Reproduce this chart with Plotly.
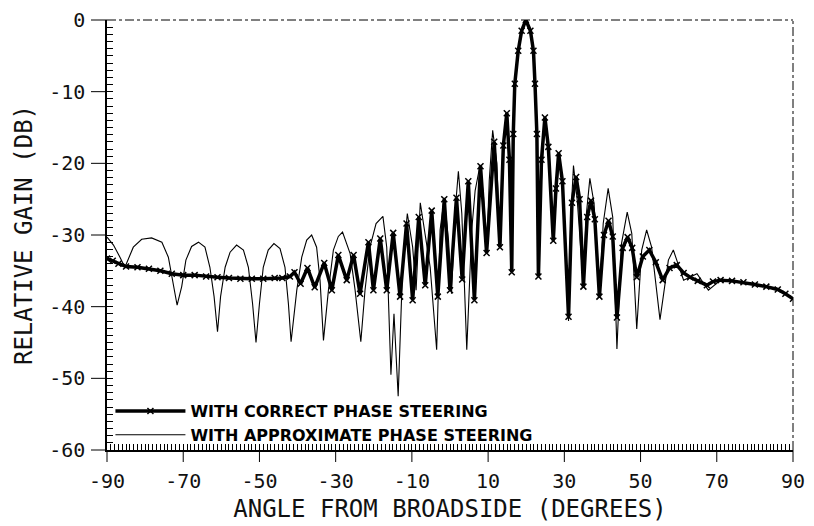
import plotly.graph_objects as go

# ---- data ----
correct_angle = [-90, -88.5, -87, -85, -82, -79, -76, -73, -70, -67, -64, -61, -58, -55, -52, -49, -46, -44, -42,
                 -40.8, -39.2, -37.4, -35.5, -33.0, -31.0, -29.3, -27.1, -25.3, -23.6, -21.4, -20.1, -18.3, -16.6,
                 -14.9, -13.1, -11.4, -9.8, -8.2, -6.5, -4.8, -3.2, -1.5, 0.0, 1.7, 3.2, 4.8, 6.4, 8.0, 9.6, 11.6,
                 13.1, 14.0, 14.9, 15.6, 16.2, 16.6, 17.0, 17.9, 18.8, 19.9, 21.1, 21.9, 22.3, 22.8, 23.2, 24.0,
                 24.9, 25.8, 27.1, 27.8, 28.5, 29.5, 31.1, 32.0, 33.1, 34.0, 35.0, 36.0, 37.0, 38.0, 39.2, 40.4,
                 41.6, 42.7, 43.8, 45.3, 46.6, 47.8, 49.0, 50.6, 52.3, 54.0, 55.8, 57.6, 59.5, 61.3, 63.0, 65.0,
                 67.4, 69.0, 71.0, 74.0, 77.0, 80.0, 83.0, 86.0, 88.0, 90.0]
correct_gain = [-33.3, -33.6, -34.0, -34.4, -34.5, -34.7, -35.0, -35.4, -35.6, -35.6, -35.8, -35.9, -36.0, -36.1,
                -36.1, -36.1, -36.0, -36.0, -35.8,
                -35.2, -36.8, -34.6, -37.3, -33.9, -37.7, -32.8, -36.3, -32.8, -38.2, -31.0, -37.7, -30.5, -37.7,
                -29.7, -38.6, -28.4, -39.1, -27.5, -37.0, -26.6, -38.6, -25.0, -37.7, -24.8, -36.2, -22.5, -39.1,
                -20.4, -32.5, -17.0,
                -31.7, -17.5, -13.0, -19.5, -35.2, -15.9, -8.9, -4.3, -1.5, 0.0, -1.5, -4.3, -8.9, -15.9, -35.8,
                -19.5, -13.6, -17.7, -30.8, -23.5, -18.6, -22.5, -41.4, -25.5, -21.9, -25.0, -37.2, -27.5, -25.2,
                -27.8, -38.6, -30.0, -28.0, -30.2, -41.5, -31.8, -30.3, -31.8, -35.9, -33.0, -32.1, -33.8, -36.3,
                -34.6, -34.2, -35.3, -35.9, -36.4, -37.0, -36.5, -36.3, -36.4, -36.6, -36.9, -37.2, -37.6, -38.2,
                -38.9]

approx_angle = [-90, -88.3, -86.6, -85.3, -83.1, -80.9, -78.3, -75.6, -73.9, -72.6, -71.6, -70.4, -69.3, -67.8,
                -66.0, -64.3, -63.0, -61.9, -61.0, -60.2, -59.0, -57.7, -56.0, -54.2, -52.9, -51.8, -50.9, -50.0,
                -49.0, -47.7, -46.2, -44.6, -43.3, -42.4, -41.7, -40.2, -38.9, -37.6, -36.3, -35.0, -34.1, -33.2,
                -31.9, -30.6, -29.3, -28.2, -26.2, -24.9, -23.4, -22.3, -21.0, -19.4, -17.6, -16.6, -15.5, -14.7,
                -13.6, -12.4, -11.2, -9.8, -8.9, -7.8, -5.2, -3.5, -2.6, -1.5, -0.4, 0.4, 1.3, 2.2, 3.1, 4.4, 5.7,
                6.6, 7.9, 8.8, 9.6, 10.3, 11.2, 12.3, 13.1, 14.0, 14.9, 15.6, 16.2, 16.6, 17.0, 17.9, 18.8, 19.9,
                21.1, 21.9, 22.3, 22.8, 23.2, 24.0, 24.9, 25.8, 27.1, 27.8, 28.7, 29.6, 31.1, 31.7, 32.4, 33.4,
                35.0, 35.7, 36.7, 37.8, 39.2, 40.2, 41.5, 42.7, 43.8, 45.0, 46.5, 47.7, 49.0, 50.3, 51.6, 52.9,
                55.1, 57.3, 58.6, 60.4, 61.3, 64.8, 67.8, 71.0, 74.0, 77.0, 80.0, 83.0, 86.0, 88.0, 90.0]
approx_gain = [-30.3, -31.4, -33.1, -34.5, -31.7, -30.6, -30.4, -31.0, -33.1, -37.2, -39.8, -37.2, -33.5, -31.6,
               -31.0, -31.7, -34.5, -38.6, -43.5, -38.6, -34.5, -32.4, -31.4, -32.1, -34.5, -39.6, -45.0, -39.6,
               -34.5, -32.1, -31.2, -31.9, -34.5, -39.6, -44.9, -37.7, -33.1, -30.7, -30.0, -31.7, -36.3, -44.7,
               -37.7, -32.1, -30.2, -29.6, -32.6, -37.7, -44.9, -37.7, -31.7, -28.4, -27.4, -31.7, -49.5, -41.0,
               -52.5, -34.0, -27.0, -31.7, -37.7, -25.5, -34.5, -46.0, -29.3, -24.8, -30.7, -38.2, -27.0, -21.1,
               -27.0, -46.0, -29.3, -23.8, -20.2, -24.7, -32.6, -22.4, -15.4, -20.0, -31.7, -17.7, -13.1, -20.0,
               -35.2, -15.9, -8.9, -4.3, -1.5, 0.0, -1.5, -4.3, -8.9, -15.9, -35.8, -22.4, -13.5, -17.7, -30.7,
               -25.2, -18.6, -23.8, -42.0, -27.5, -20.3, -25.2, -37.2, -27.5, -22.1, -25.6, -38.6, -28.4, -23.5,
               -27.5, -45.9, -31.2, -26.8, -29.8, -43.1, -32.1, -29.3, -31.7, -41.8, -33.5, -32.1, -34.9, -36.3,
               -35.4, -37.7, -36.3, -36.4, -36.6, -36.9, -37.2, -37.6, -38.2, -38.9]

x_range = [-90, 90]
y_range = [-60, 0]
x_tick_vals = [-90, -70, -50, -30, -10, 10, 30, 50, 70, 90]
x_tick_text = ["-90", "-70", "-50", "-30", "-10", "10", "30", "50", "70", "90"]
y_tick_vals = [0, -10, -20, -30, -40, -50, -60]
y_tick_text = ["0", "-10", "-20", "-30", "-40", "-50", "-60"]

# fine tick marks every degree / every dB; only the labelled ones carry text
x_fine = list(range(x_range[0], x_range[1] + 1))
x_fine_text = [x_tick_text[x_tick_vals.index(v)] if v in x_tick_vals else "" for v in x_fine]
y_fine = list(range(y_range[0], y_range[1] + 1))
y_fine_text = [y_tick_text[y_tick_vals.index(v)] if v in y_tick_vals else "" for v in y_fine]

plot_font = "DejaVu Sans Mono"
W, H = 806, 518
ML, MR, MT, MB = 99, 21, 12, 76
plot_w = W - ML - MR
plot_h = H - MT - MB
x_major_len, y_major_len = 12, 16

fig = go.Figure()
fig.add_trace(go.Scatter(
    x=approx_angle, y=approx_gain, mode="lines",
    name="WITH APPROXIMATE PHASE STEERING",
    line=dict(color="black", width=1.1),
))
fig.add_trace(go.Scatter(
    x=correct_angle, y=correct_gain, mode="lines+markers",
    name="WITH CORRECT PHASE STEERING",
    line=dict(color="black", width=3.5),
    marker=dict(symbol="x-thin", size=6, line=dict(color="black", width=1.5), color="black"),
))

# long outside tick marks at the labelled values
shapes = []
for v in x_tick_vals:
    fx = (v - x_range[0]) / (x_range[1] - x_range[0])
    shapes.append(dict(type="line", xref="paper", yref="paper", x0=fx, x1=fx, y0=0, y1=-x_major_len / plot_h,
                       line=dict(color="black", width=1)))
for v in y_tick_vals:
    fy = (v - y_range[0]) / (y_range[1] - y_range[0])
    shapes.append(dict(type="line", xref="paper", yref="paper", y0=fy, y1=fy, x0=0, x1=-y_major_len / plot_w,
                       line=dict(color="black", width=1)))
# dash-dot top and right frame
shapes.append(dict(type="line", xref="paper", yref="paper", x0=0, x1=1, y0=1, y1=1,
                   line=dict(color="black", width=1, dash="dashdot")))
shapes.append(dict(type="line", xref="paper", yref="paper", x0=1, x1=1, y0=0, y1=1,
                   line=dict(color="black", width=1, dash="dashdot")))

# the page body has an 8 px default margin, so the figure is sized to fit inside the window
fig.update_layout(
    width=W, height=H,
    margin=dict(l=ML, r=MR, t=MT, b=MB),
    paper_bgcolor="white", plot_bgcolor="white",
    showlegend=True,
    legend=dict(
        x=0.005, y=0.13, xanchor="left", yanchor="top",
        traceorder="reversed",
        font=dict(family="DejaVu Sans", size=16, color="black", weight="bold"),
        bgcolor="rgba(0,0,0,0)", itemwidth=70, tracegroupgap=0,
    ),
    xaxis=dict(
        range=x_range, tickmode="array", tickvals=x_fine, ticktext=x_fine_text,
        ticks="inside", ticklen=6, tickwidth=1, tickcolor="black", ticklabelstandoff=x_major_len,
        showline=True, linecolor="black", linewidth=1.5,
        showgrid=False, zeroline=False, automargin=False,
        tickfont=dict(family=plot_font, size=20, color="#111"),
        title=dict(text="ANGLE FROM BROADSIDE (DEGREES)", font=dict(family=plot_font, size=24, color="#111"),
                   standoff=8),
    ),
    yaxis=dict(
        range=y_range, tickmode="array", tickvals=y_fine, ticktext=y_fine_text,
        ticks="inside", ticklen=6, tickwidth=1, tickcolor="black", ticklabelstandoff=y_major_len,
        showline=True, linecolor="black", linewidth=1.5,
        showgrid=False, zeroline=False, automargin=False,
        tickfont=dict(family=plot_font, size=20, color="#111"),
        title=dict(text="RELATIVE GAIN (DB)", font=dict(family=plot_font, size=24, color="#111"), standoff=10),
    ),
    shapes=shapes,
)

fig.write_html("out.html")
